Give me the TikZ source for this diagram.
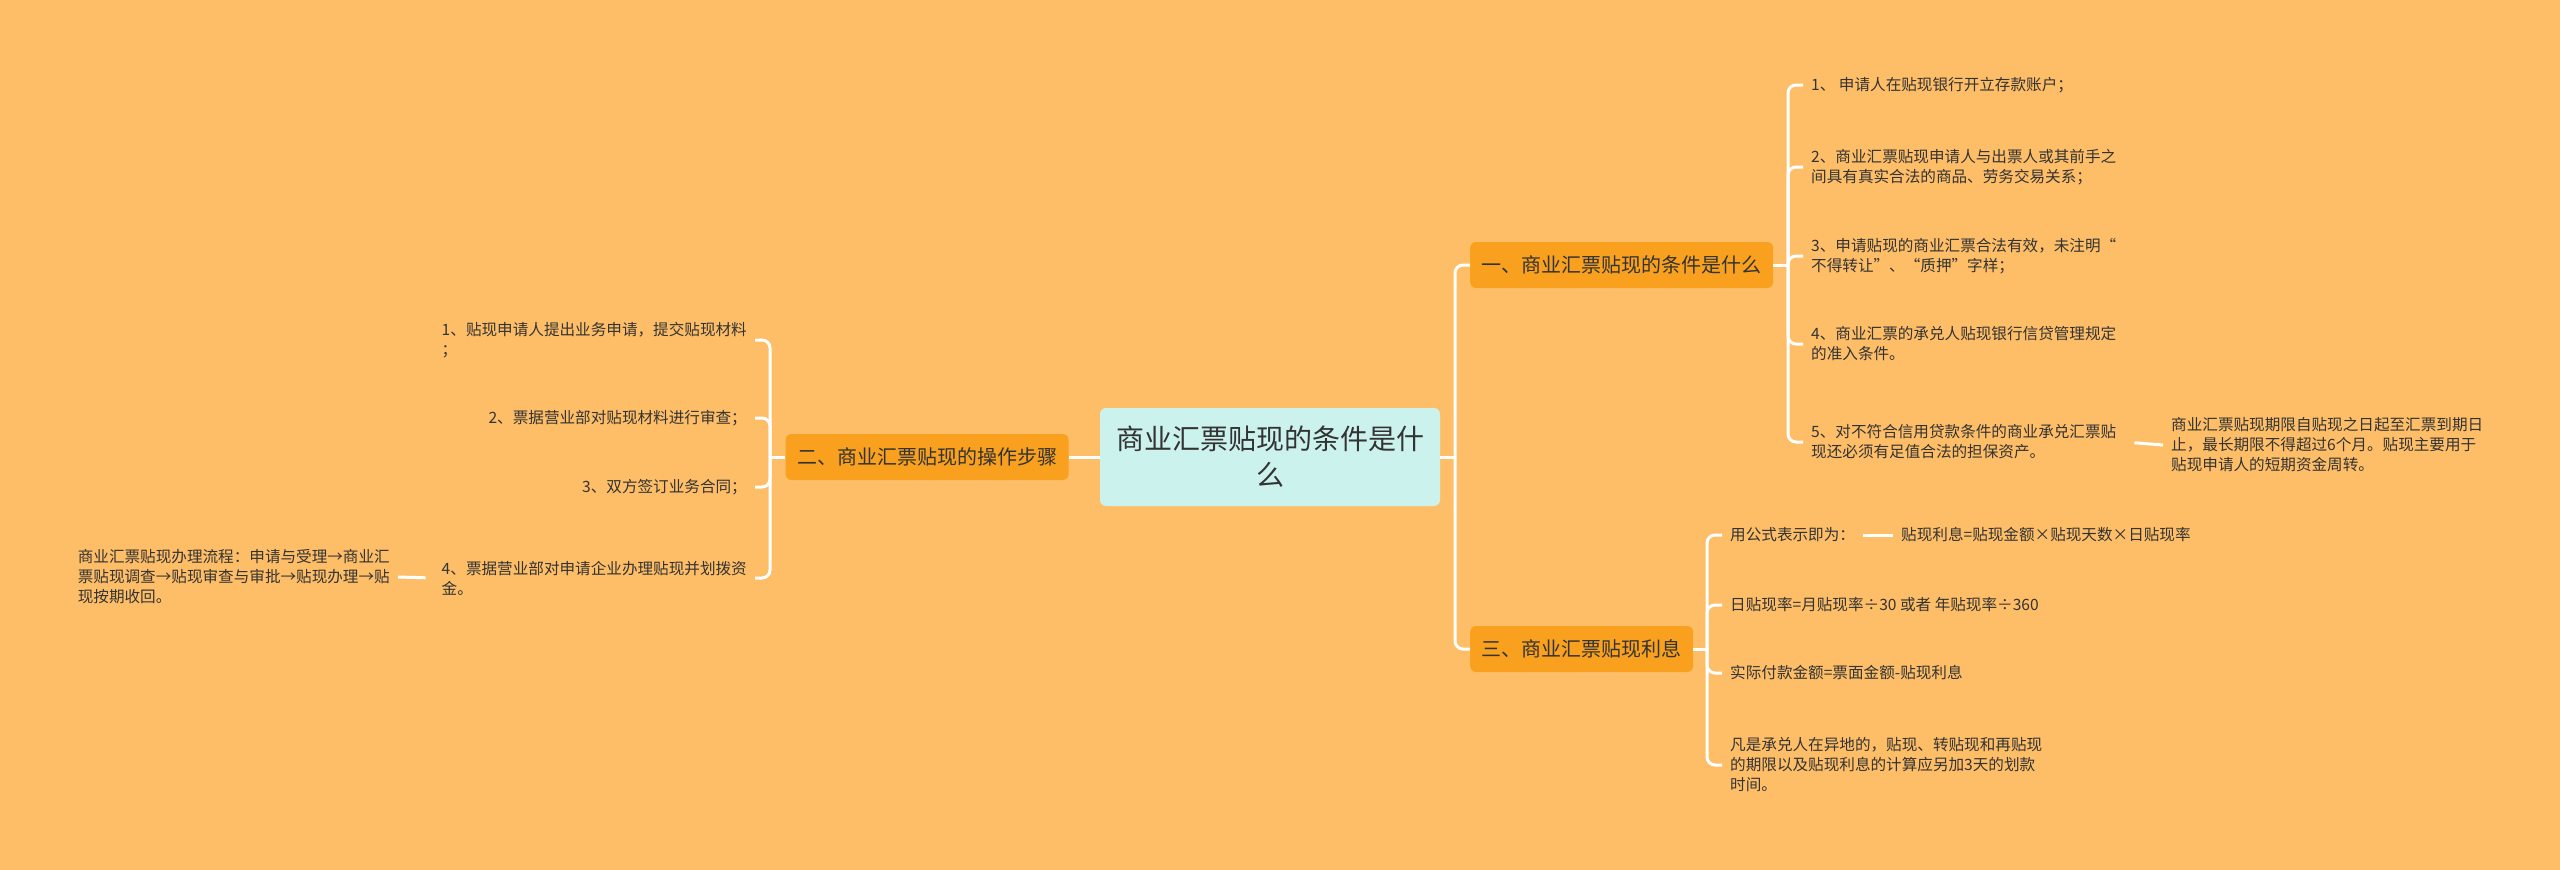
\documentclass[tikz,border=0pt]{standalone}
\usepackage{fontspec}
\setmainfont{Noto Sans CJK SC}
\usetikzlibrary{positioning}
\definecolor{bgorange}{HTML}{FEBE68}
\definecolor{branchorange}{HTML}{F9A11E}
\definecolor{rootcyan}{HTML}{CCF2EE}
\definecolor{inktext}{HTML}{333333}

\begin{document}
\begin{tikzpicture}[
    x=1pt, y=-1pt,
    root/.style={rectangle, rounded corners=6pt, fill=rootcyan, minimum width=340pt, minimum height=98pt, align=center, font=\fontsize{28}{36}\selectfont, text=inktext},
    branch/.style={rectangle, rounded corners=6pt, fill=branchorange, minimum height=46pt, inner xsep=11.5pt, font=\fontsize{20}{24}\selectfont, text=inktext},
    leaf/.style={inner xsep=8pt, inner ysep=0pt, align=left, font=\fontsize{15.6}{20}\selectfont, text=inktext},
    link/.style={draw=white, line width=3pt, rounded corners=8pt}
]
\fill[bgorange] (0,0) rectangle (2560,870);

\node[root] (root) at (1270,457) {商业汇票贴现的条件是什\\么};
\node[branch, anchor=west] (cond) at (1470,265) {一、商业汇票贴现的条件是什么};
\node[branch, anchor=west] (interest) at (1470,649) {三、商业汇票贴现利息};
\node[branch, left=31pt of root] (steps) {二、商业汇票贴现的操作步骤};

% conditions
\node[leaf, anchor=west] (c1) at (1803,85) {1、 申请人在贴现银行开立存款账户；};
\node[leaf, anchor=west] (c2) at (1803,167) {2、商业汇票贴现申请人与出票人或其前手之\\间具有真实合法的商品、劳务交易关系；};
\node[leaf, anchor=west] (c3) at (1803,256) {3、申请贴现的商业汇票合法有效，未注明“\\不得转让”、“质押”字样；};
\node[leaf, anchor=west] (c4) at (1803,344) {4、商业汇票的承兑人贴现银行信贷管理规定\\的准入条件。};
\node[leaf, anchor=west] (c5) at (1803,442) {5、对不符合信用贷款条件的商业承兑汇票贴\\现还必须有足值合法的担保资产。};
\node[leaf, anchor=west] (c5n) at (2163,445) {商业汇票贴现期限自贴现之日起至汇票到期日\\止，最长期限不得超过6个月。贴现主要用于\\贴现申请人的短期资金周转。};

% interest
\node[leaf, anchor=west] (f1) at (1722,535) {用公式表示即为：};
\node[leaf, anchor=west] (f1n) at (1893,535) {贴现利息=贴现金额×贴现天数×日贴现率};
\node[leaf, anchor=west] (f2) at (1722,605) {日贴现率=月贴现率÷30 或者 年贴现率÷360};
\node[leaf, anchor=west] (f3) at (1722,673) {实际付款金额=票面金额-贴现利息};
\node[leaf, anchor=west] (f4) at (1722,765) {凡是承兑人在异地的，贴现、转贴现和再贴现\\的期限以及贴现利息的计算应另加3天的划款\\时间。};

% steps
\node[leaf, anchor=east] (s1) at (755,340) {1、贴现申请人提出业务申请，提交贴现材料\\；};
\node[leaf, anchor=east] (s2) at (755,418) {2、票据营业部对贴现材料进行审查；};
\node[leaf, anchor=east] (s3) at (755,487) {3、双方签订业务合同；};
\node[leaf, anchor=east] (s4) at (755,578) {4、票据营业部对申请企业办理贴现并划拨资\\金。};
\node[leaf, anchor=east] (s4n) at (398,577) {商业汇票贴现办理流程：申请与受理→商业汇\\票贴现调查→贴现审查与审批→贴现办理→贴\\现按期收回。};

% junctions
\coordinate (jroot) at (1455,457);
\coordinate (jcond) at (1788,265);
\coordinate (jint) at (1707,649);
\coordinate (jsteps) at (770,457);

\draw[link] (root.west) -- (steps.east);
\draw[link] (root.east) -- (jroot);
\draw[link] (jroot) |- (cond.west);
\draw[link] (jroot) |- (interest.west);

\draw[link] (cond.east) -- (jcond);
\foreach \n in {c1,c2,c3,c4,c5}
    \draw[link] (jcond) |- (\n.west);
\draw[link, shorten <=10pt] (c5.east) -- (c5n.west);

\draw[link] (interest.east) -- (jint);
\foreach \n in {f1,f2,f3,f4}
    \draw[link] (jint) |- (\n.west);
\draw[link] (f1.east) -- (f1n.west);

\draw[link] (steps.west) -- (jsteps);
\foreach \n in {s1,s2,s3,s4}
    \draw[link] (jsteps) |- (\n.east);
\draw[link, shorten <=8pt] (s4.west) -- (s4n.east);
\end{tikzpicture}
\end{document}
